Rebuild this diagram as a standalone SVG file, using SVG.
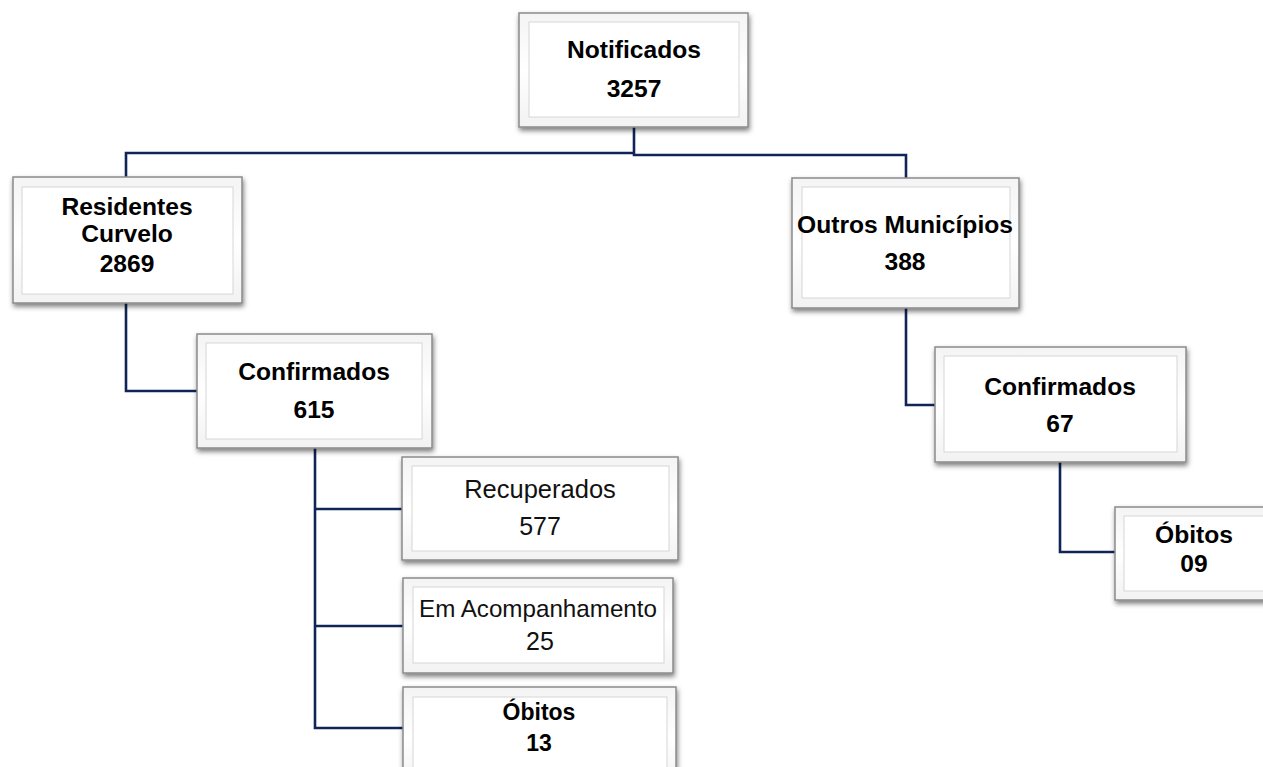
<svg xmlns="http://www.w3.org/2000/svg" width="1263" height="767" viewBox="0 0 1263 767">
<defs>
<filter id="sh" x="-10%" y="-10%" width="125%" height="135%">
<feDropShadow dx="1" dy="3" stdDeviation="2.5" flood-color="#000" flood-opacity="0.5"/>
</filter>
<linearGradient id="bg" x1="0" y1="0" x2="0" y2="1">
<stop offset="0" stop-color="#f4f4f4"/>
<stop offset="0.5" stop-color="#ffffff"/>
<stop offset="1" stop-color="#f2f2f2"/>
</linearGradient>
</defs>
<style>
.outer{fill:url(#bg);stroke:#8a8a8a;stroke-width:1.5;filter:url(#sh)}
.inner{fill:#ffffff;stroke:#d6d6d6;stroke-width:1}
.b{font-family:"Liberation Sans",Arial,sans-serif;font-weight:bold;font-size:24.6px;fill:#000;text-anchor:middle}
.r{font-family:"Liberation Sans",Arial,sans-serif;font-size:25px;fill:#111;text-anchor:middle}
.c{fill:none;stroke:#0f2557;stroke-width:2.6}
</style>
<rect width="1263" height="767" fill="#ffffff"/>
<g id="connectors">
<polyline class="c" points="634,127 634,155 906,155 906,178"/>
<polyline class="c" points="634,153 126,153 126,177"/>
<polyline class="c" points="126,303 126,391 197,391"/>
<polyline class="c" points="315,448 315,728 403,728"/>
<line class="c" x1="315" y1="509" x2="402" y2="509"/>
<line class="c" x1="315" y1="626" x2="403" y2="626"/>
<polyline class="c" points="906,308 906,405 935,405"/>
<polyline class="c" points="1060,462 1060,552 1115,552"/>
</g>
<g id="notificados">
<rect class="outer" x="519" y="13" width="229" height="114"/>
<rect class="inner" x="529" y="22" width="210" height="95"/>
<text class="b" x="634" y="58">Notificados</text>
<text class="b" x="634" y="97">3257</text>
</g>
<g id="residentes">
<rect class="outer" x="13" y="177" width="229" height="126"/>
<rect class="inner" x="22" y="187" width="211" height="107"/>
<text class="b" x="127" y="215">Residentes</text>
<text class="b" x="127" y="242">Curvelo</text>
<text class="b" x="127" y="272">2869</text>
</g>
<g id="confirmados-residentes">
<rect class="outer" x="197" y="334" width="235" height="114"/>
<rect class="inner" x="206" y="343" width="216" height="96"/>
<text class="b" x="314" y="380">Confirmados</text>
<text class="b" x="314" y="418">615</text>
</g>
<g id="recuperados">
<rect class="outer" x="402" y="457" width="276" height="103"/>
<rect class="inner" x="412" y="466" width="257" height="85"/>
<text class="r" x="540" y="498" style="font-size:25.5px">Recuperados</text>
<text class="r" x="540" y="535">577</text>
</g>
<g id="acompanhamento">
<rect class="outer" x="403" y="578" width="270" height="95"/>
<rect class="inner" x="413" y="587" width="251" height="76"/>
<text class="r" x="538" y="617" style="font-size:24.2px">Em Acompanhamento</text>
<text class="r" x="540" y="650" style="font-size:25px">25</text>
</g>
<g id="obitos-residentes">
<rect class="outer" x="403" y="687" width="273" height="100"/>
<rect class="inner" x="413" y="697" width="254" height="80"/>
<text class="b" x="539" y="720" style="font-size:23px">Óbitos</text>
<text class="b" x="539" y="751" style="font-size:23px">13</text>
</g>
<g id="outros">
<rect class="outer" x="792" y="178" width="227" height="130"/>
<rect class="inner" x="802" y="187" width="208" height="111"/>
<text class="b" x="905" y="233">Outros Municípios</text>
<text class="b" x="905" y="270">388</text>
</g>
<g id="confirmados-outros">
<rect class="outer" x="935" y="347" width="251" height="115"/>
<rect class="inner" x="944" y="356" width="233" height="96"/>
<text class="b" x="1060" y="395">Confirmados</text>
<text class="b" x="1060" y="432">67</text>
</g>
<g id="obitos-outros">
<rect class="outer" x="1115" y="507" width="160" height="93"/>
<rect class="inner" x="1124" y="516" width="150" height="75"/>
<text class="b" x="1194" y="543">Óbitos</text>
<text class="b" x="1194" y="572">09</text>
</g>
</svg>
